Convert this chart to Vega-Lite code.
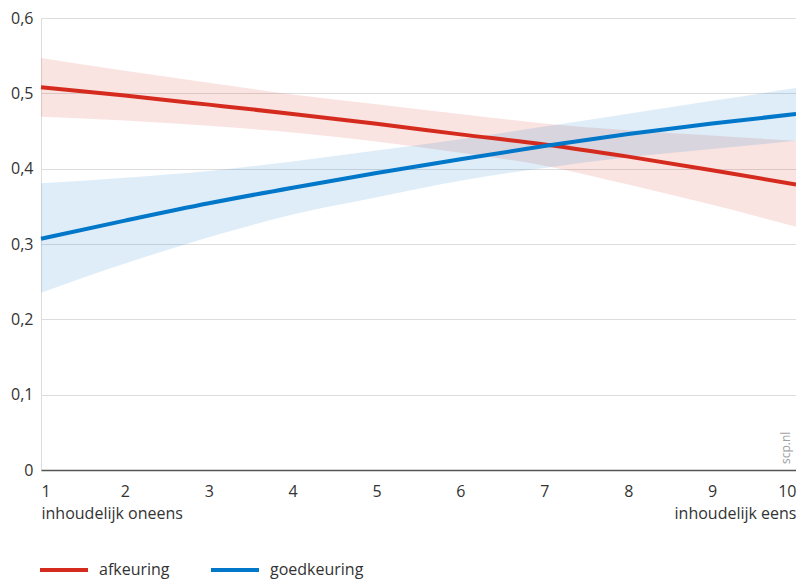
{
  "$schema": "https://vega.github.io/schema/vega-lite/v6.json",
  "width": 755,
  "height": 452,
  "autosize": {"type": "none"},
  "padding": {"left": 41, "top": 18, "right": 0, "bottom": 112},
  "config": {
    "font": "Open Sans",
    "view": {"stroke": "#dddddd", "strokeWidth": 1},
    "axis": {"labelFont": "Open Sans", "labelFontSize": 16, "labelColor": "#333333", "titleFont": "Open Sans"},
    "legend": {"labelFont": "Open Sans", "labelFontSize": 16, "labelColor": "#333333"}
  },
  "datasets": {
    "bands": [
      {"x": 1, "reeks": "afkeuring", "mid": 0.508, "lo": 0.469, "hi": 0.547},
      {"x": 2, "reeks": "afkeuring", "mid": 0.497, "lo": 0.464, "hi": 0.530},
      {"x": 3, "reeks": "afkeuring", "mid": 0.485, "lo": 0.457, "hi": 0.514},
      {"x": 4, "reeks": "afkeuring", "mid": 0.4727, "lo": 0.448, "hi": 0.4985},
      {"x": 5, "reeks": "afkeuring", "mid": 0.4595, "lo": 0.436, "hi": 0.4855},
      {"x": 6, "reeks": "afkeuring", "mid": 0.4455, "lo": 0.421, "hi": 0.4725},
      {"x": 7, "reeks": "afkeuring", "mid": 0.4322, "lo": 0.404, "hi": 0.460},
      {"x": 8, "reeks": "afkeuring", "mid": 0.416, "lo": 0.379, "hi": 0.451},
      {"x": 9, "reeks": "afkeuring", "mid": 0.398, "lo": 0.352, "hi": 0.444},
      {"x": 10, "reeks": "afkeuring", "mid": 0.379, "lo": 0.323, "hi": 0.437},
      {"x": 1, "reeks": "goedkeuring", "mid": 0.307, "lo": 0.2354, "hi": 0.3805},
      {"x": 2, "reeks": "goedkeuring", "mid": 0.331, "lo": 0.274, "hi": 0.388},
      {"x": 3, "reeks": "goedkeuring", "mid": 0.354, "lo": 0.309, "hi": 0.397},
      {"x": 4, "reeks": "goedkeuring", "mid": 0.3747, "lo": 0.339, "hi": 0.4095},
      {"x": 5, "reeks": "goedkeuring", "mid": 0.3942, "lo": 0.362, "hi": 0.424},
      {"x": 6, "reeks": "goedkeuring", "mid": 0.4125, "lo": 0.384, "hi": 0.439},
      {"x": 7, "reeks": "goedkeuring", "mid": 0.430, "lo": 0.401, "hi": 0.456},
      {"x": 8, "reeks": "goedkeuring", "mid": 0.446, "lo": 0.415, "hi": 0.473},
      {"x": 9, "reeks": "goedkeuring", "mid": 0.460, "lo": 0.426, "hi": 0.490},
      {"x": 10, "reeks": "goedkeuring", "mid": 0.4725, "lo": 0.437, "hi": 0.507}
    ],
    "bron": [{"x": 10, "y": 0, "t": "scp.nl"}]
  },
  "layer": [
    {
      "data": {"name": "bands"},
      "mark": {"type": "area", "fillOpacity": 0.13, "interpolate": "monotone"},
      "encoding": {
        "x": {"field": "x", "type": "quantitative",
          "scale": {"domain": [1, 10], "nice": false, "zero": false},
          "axis": {"title": null, "values": [1,2,3,4,5,6,7,8,9,10], "format": "d", "grid": false, "ticks": false,
            "domainColor": "#555555", "domainWidth": 1.5, "labelPadding": 13, "labelFlush": true,
            "labelOverlap": false, "labelLineHeight": 22,
            "labelExpr": "datum.value == 1 ? ['1', 'inhoudelijk oneens'] : datum.value == 10 ? ['10', 'inhoudelijk eens'] : datum.label"}},
        "y": {"field": "lo", "type": "quantitative",
          "scale": {"domain": [0, 0.6], "nice": false},
          "axis": {"title": null, "values": [0, 0.1, 0.2, 0.3, 0.4, 0.5, 0.6], "domain": false, "ticks": false,
            "gridColor": "#dddddd", "gridWidth": 1, "labelPadding": 8,
            "labelExpr": "datum.value == 0 ? '0' : replace(format(datum.value, '.1f'), '.', ',')"}},
        "y2": {"field": "hi"},
        "color": {"field": "reeks", "type": "nominal",
          "scale": {"domain": ["afkeuring", "goedkeuring"], "range": ["#d52b1e", "#0077c8"]},
          "legend": {"title": null, "orient": "none", "legendX": -3, "legendY": 526,
            "direction": "horizontal", "symbolType": "stroke", "symbolSize": 2304,
            "symbolStrokeWidth": 4, "symbolOpacity": 1, "labelOffset": 9, "columnPadding": 33}}
      }
    },
    {
      "data": {"name": "bands"},
      "mark": {"type": "line", "strokeWidth": 4, "interpolate": "monotone"},
      "encoding": {
        "x": {"field": "x", "type": "quantitative"},
        "y": {"field": "mid", "type": "quantitative"},
        "color": {"field": "reeks", "type": "nominal"}
      }
    },
    {
      "data": {"name": "bron"},
      "mark": {"type": "text", "angle": 270, "align": "left", "baseline": "bottom",
        "dx": 6, "dy": -3, "fontSize": 12, "color": "#a0a0a0", "font": "Open Sans"},
      "encoding": {
        "x": {"field": "x", "type": "quantitative"},
        "y": {"field": "y", "type": "quantitative"},
        "text": {"field": "t"}
      }
    }
  ]
}
